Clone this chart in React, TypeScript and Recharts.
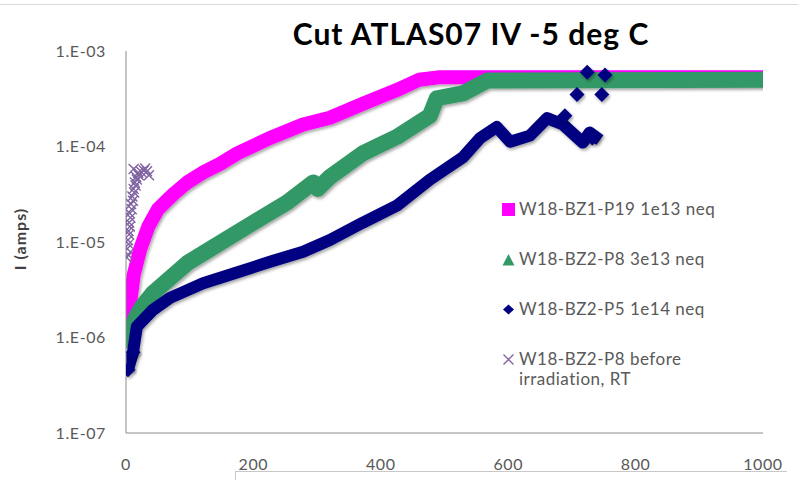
import React from 'react';
import { ComposedChart, Line, Scatter, XAxis, YAxis } from 'recharts';

const voltageTicks = [0, 200, 400, 600, 800, 1000];
const currentTicks = [1e-7, 1e-6, 1e-5, 1e-4, 1e-3];
const currentTickLabels = ['1.E-07', '1.E-06', '1.E-05', '1.E-04', '1.E-03'];

const seriesNames = [
  'W18-BZ1-P19 1e13 neq',
  'W18-BZ2-P8 3e13 neq',
  'W18-BZ2-P5 1e14 neq',
  'W18-BZ2-P8 before irradiation, RT',
];
const seriesColors = ['#FF00FF', '#339966', '#000080', '#8064A2'];

// W18-BZ1-P19 1e13 neq (V, I)
const p19 = [
  { v: 0, i: 8e-7 }, { v: 2, i: 1.1e-6 }, { v: 6, i: 2.2e-6 }, { v: 12, i: 4.5e-6 },
  { v: 22, i: 8.3e-6 }, { v: 35, i: 1.45e-5 }, { v: 50, i: 2.2e-5 }, { v: 75, i: 3.2e-5 },
  { v: 96, i: 4.2e-5 }, { v: 120, i: 5.3e-5 }, { v: 148, i: 6.6e-5 }, { v: 175, i: 8.5e-5 },
  { v: 225, i: 1.22e-4 }, { v: 278, i: 1.7e-4 }, { v: 320, i: 2.0e-4 }, { v: 372, i: 2.8e-4 },
  { v: 425, i: 3.9e-4 }, { v: 460, i: 5.0e-4 }, { v: 490, i: 5.3e-4 }, { v: 1005, i: 5.3e-4 },
];

// W18-BZ2-P8 3e13 neq
const p8 = [
  { v: 0, i: 8e-7 }, { v: 6, i: 1.1e-6 }, { v: 15, i: 1.6e-6 }, { v: 25, i: 2.1e-6 },
  { v: 42, i: 2.9e-6 }, { v: 96, i: 6.0e-6 }, { v: 148, i: 9.8e-6 }, { v: 199, i: 1.58e-5 },
  { v: 253, i: 2.6e-5 }, { v: 294, i: 4.2e-5 }, { v: 301, i: 3.6e-5 }, { v: 320, i: 4.8e-5 },
  { v: 372, i: 8.5e-5 }, { v: 425, i: 1.26e-4 }, { v: 477, i: 2.1e-4 }, { v: 488, i: 3.2e-4 },
  { v: 529, i: 3.6e-4 }, { v: 567, i: 4.9e-4 }, { v: 1005, i: 5.0e-4 },
];

// W18-BZ2-P5 1e14 neq (continuous part)
const p5 = [
  { v: 3, i: 4.6e-7 }, { v: 11, i: 7e-7 }, { v: 17, i: 1.3e-6 }, { v: 42, i: 1.94e-6 },
  { v: 69, i: 2.6e-6 }, { v: 121, i: 3.7e-6 }, { v: 174, i: 4.8e-6 }, { v: 226, i: 6.2e-6 },
  { v: 278, i: 7.9e-6 }, { v: 320, i: 1.05e-5 }, { v: 372, i: 1.6e-5 }, { v: 425, i: 2.4e-5 },
  { v: 477, i: 4.5e-5 }, { v: 529, i: 7.7e-5 }, { v: 556, i: 1.23e-4 }, { v: 582, i: 1.6e-4 },
  { v: 603, i: 1.12e-4 }, { v: 634, i: 1.3e-4 }, { v: 661, i: 1.98e-4 }, { v: 686, i: 1.7e-4 },
  { v: 717, i: 1.1e-4 }, { v: 728, i: 1.4e-4 }, { v: 744, i: 1.17e-4 },
];

// W18-BZ2-P5 1e14 neq (isolated points)
const p5Points = [
  { v: 3, i: 4.6e-7 }, { v: 11, i: 7e-7 }, { v: 689, i: 2.1e-4 }, { v: 732, i: 1.23e-4 },
  { v: 708, i: 3.5e-4 }, { v: 747, i: 3.5e-4 }, { v: 724, i: 6.0e-4 }, { v: 752, i: 5.6e-4 },
];

// W18-BZ2-P8 before irradiation, RT
const p8RT = [
  { v: 1, i: 6.9e-6 }, { v: 3, i: 7.4e-6 }, { v: 2, i: 8.5e-6 }, { v: 4, i: 9.5e-6 },
  { v: 3, i: 1.05e-5 }, { v: 5, i: 1.2e-5 }, { v: 4, i: 1.3e-5 }, { v: 6, i: 1.45e-5 },
  { v: 5, i: 1.6e-5 }, { v: 7, i: 1.8e-5 }, { v: 6, i: 2.0e-5 }, { v: 9, i: 2.2e-5 },
  { v: 8, i: 2.5e-5 }, { v: 11, i: 2.7e-5 }, { v: 10, i: 3.0e-5 }, { v: 13, i: 3.3e-5 },
  { v: 12, i: 3.6e-5 }, { v: 15, i: 3.9e-5 }, { v: 14, i: 4.2e-5 }, { v: 17, i: 4.5e-5 },
  { v: 16, i: 4.8e-5 }, { v: 20, i: 5.0e-5 }, { v: 19, i: 5.3e-5 }, { v: 24, i: 5.4e-5 },
  { v: 28, i: 5.6e-5 }, { v: 33, i: 5.5e-5 }, { v: 30, i: 5.9e-5 }, { v: 12, i: 5.8e-5 },
  { v: 36, i: 5.0e-5 },
];

const FONT = 'Lato, "Open Sans", sans-serif';

const Diamond = (props: any) => {
  const { cx, cy } = props;
  if (cx == null || cy == null) return null;
  const r = 7.5;
  return (
    <path
      d={`M${cx},${cy - r}L${cx + r},${cy}L${cx},${cy + r}L${cx - r},${cy}Z`}
      fill="#000080"
      filter="url(#shadow)"
    />
  );
};

const Cross = (props: any) => {
  const { cx, cy } = props;
  if (cx == null || cy == null) return null;
  const r = 5;
  return (
    <path
      d={`M${cx - r},${cy - r}L${cx + r},${cy + r}M${cx - r},${cy + r}L${cx + r},${cy - r}`}
      stroke="#8064A2"
      strokeWidth={1.4}
      fill="none"
    />
  );
};

const legendMarker = (idx: number) => {
  const c = seriesColors[idx];
  if (idx === 0) return <rect x={0} y={0} width={13} height={13} fill={c} />;
  if (idx === 1) return <path d="M0.5,12.5L6.5,1L12.5,12.5Z" fill={c} />;
  if (idx === 2) return <path d="M6.5,1.5L12,6.5L6.5,11.5L1,6.5Z" fill={c} />;
  return (
    <path d="M1.5,1.5L11.5,11.5M1.5,11.5L11.5,1.5" stroke={c} strokeWidth={1.3} fill="none" />
  );
};

const ChartLegend = () => (
  <div
    style={{
      position: 'absolute',
      left: 502,
      top: 199,
      fontFamily: FONT,
      fontSize: 17,
      letterSpacing: 0.5,
      color: '#595959',
      lineHeight: '20px',
    }}
  >
    {seriesNames.map((name, idx) => {
      const lines = idx === 3 ? ['W18-BZ2-P8 before', 'irradiation, RT'] : [name];
      return (
        <div key={name} style={{ marginBottom: 30 }}>
          {lines.map((ln, j) => (
            <div key={ln} style={{ display: 'flex', alignItems: 'center', height: 20 }}>
              <svg width={17} height={13} style={{ flex: 'none' }}>
                {j === 0 ? legendMarker(idx) : null}
              </svg>
              <span style={{ whiteSpace: 'nowrap' }}>{ln}</span>
            </div>
          ))}
        </div>
      );
    })}
  </div>
);

const tickStyle = { fill: '#595959', fontSize: 16, fontFamily: FONT, letterSpacing: 0.6 };

export default function App() {
  return (
    <div style={{ position: 'absolute', left: 0, top: 0, width: 798, height: 480, background: '#fff' }}>
      <ComposedChart
        width={798}
        height={480}
        margin={{ top: 51, right: 35, bottom: 0, left: 0 }}
      >
        <defs>
          <filter id="shadow" x="-10%" y="-10%" width="120%" height="130%">
            <feDropShadow dx="1.5" dy="2" stdDeviation="1.4" floodColor="#000" floodOpacity="0.35" />
          </filter>
        </defs>
        <XAxis
          dataKey="v"
          type="number"
          domain={[0, 1000]}
          ticks={voltageTicks}
          allowDataOverflow
          height={47}
          tickLine={false}
          tickMargin={20}
          axisLine={{ stroke: '#8c8c8c', strokeWidth: 1 }}
          tick={tickStyle}
          interval={0}
        />
        <YAxis
          dataKey="i"
          type="number"
          scale="log"
          domain={[1e-7, 1e-3]}
          ticks={currentTicks}
          allowDataOverflow
          width={126}
          tickLine={false}
          tickMargin={14}
          interval={0}
          axisLine={{ stroke: '#8c8c8c', strokeWidth: 1 }}
          tick={tickStyle}
          tickFormatter={(v: number) => currentTickLabels[currentTicks.findIndex((t) => Math.abs(t - v) / t < 1e-6)] ?? ''}
        />
        <Line
          data={p19}
          dataKey="i"
          name={seriesNames[0]}
          stroke={seriesColors[0]}
          strokeWidth={14}
          strokeLinejoin="round"
          dot={false}
          filter="url(#shadow)"
          isAnimationActive={false}
        />
        <Line
          data={p8}
          dataKey="i"
          name={seriesNames[1]}
          stroke={seriesColors[1]}
          strokeWidth={16}
          strokeLinejoin="round"
          dot={false}
          filter="url(#shadow)"
          isAnimationActive={false}
        />
        <Line
          data={p5}
          dataKey="i"
          name={seriesNames[2]}
          stroke={seriesColors[2]}
          strokeWidth={12}
          strokeLinejoin="round"
          dot={false}
          filter="url(#shadow)"
          isAnimationActive={false}
        />
        <Scatter
          data={p5Points}
          dataKey="i"
          name={seriesNames[2] + ' pts'}
          fill={seriesColors[2]}
          shape={Diamond}
          isAnimationActive={false}
        />
        <Scatter
          data={p8RT}
          dataKey="i"
          name={seriesNames[3]}
          fill={seriesColors[3]}
          shape={Cross}
          isAnimationActive={false}
        />
      </ComposedChart>
      <ChartLegend />
      <svg
        width={798}
        height={480}
        style={{ position: 'absolute', left: 0, top: 0, pointerEvents: 'none' }}
      >
        <line x1={0} y1={4.5} x2={798} y2={4.5} stroke="#d9d9d9" strokeWidth={1} />
        <line x1={235} y1={471.5} x2={787} y2={471.5} stroke="#c8c8c8" strokeWidth={1} />
        <line x1={235.5} y1={471} x2={235.5} y2={480} stroke="#c8c8c8" strokeWidth={1} />
        <text
          x={19}
          y={239}
          textAnchor="middle"
          transform="rotate(-90 19 239)"
          dominantBaseline="central"
          fontSize={16}
          fontWeight={700}
          letterSpacing={1}
          fontFamily={FONT}
          fill="#404040"
        >
          I (amps)
        </text>
        <text
          x={471}
          y={45}
          textAnchor="middle"
          fontSize={30}
          fontWeight={700}
          letterSpacing={1}
          fontFamily={FONT}
          fill="#000"
        >
          Cut ATLAS07 IV -5 deg C
        </text>
      </svg>
    </div>
  );
}
